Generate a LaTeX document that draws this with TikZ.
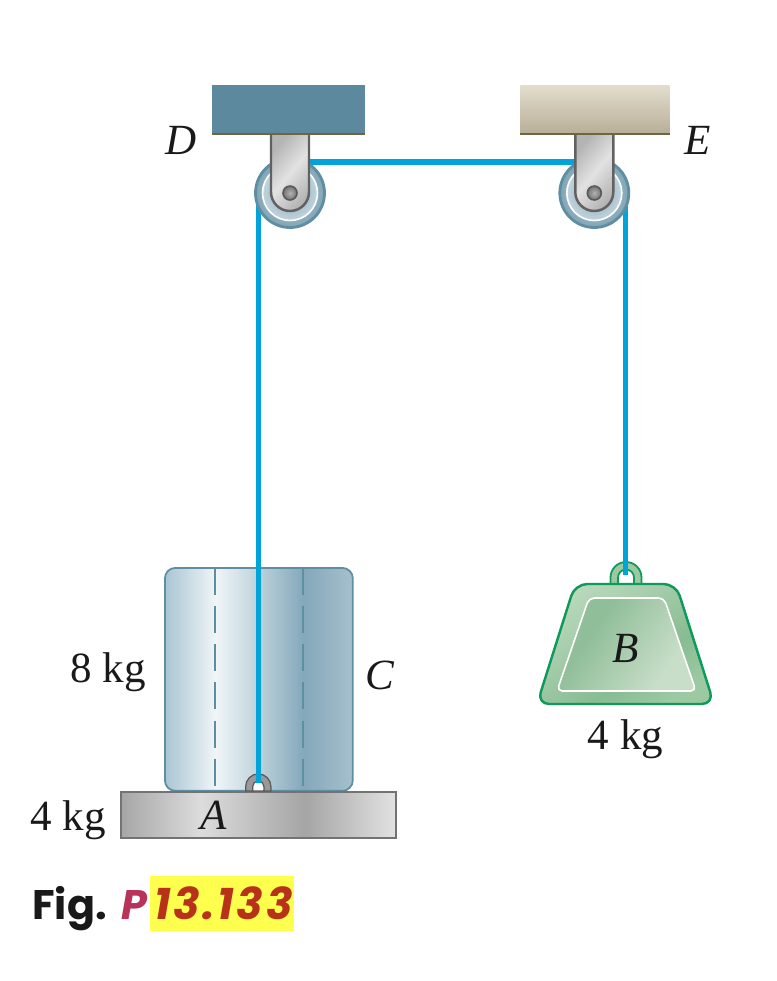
\documentclass[tikz,border=0pt]{standalone}
\usepackage{fontspec}
\setmainfont{Liberation Serif}
\newfontfamily\figfont{Poppins}
\newfontfamily\fignumfont{Poppins}[Kerning=Off, LetterSpace=6]
\definecolor{ropeblue}{HTML}{00A3DA}
\definecolor{steelblue}{HTML}{5F8EA3}
\definecolor{wallblue}{HTML}{5D899E}
\definecolor{wallbrown}{HTML}{6F6540}
\definecolor{walltop}{HTML}{E4DDCD}
\definecolor{wallbottom}{HTML}{B8AF98}
\definecolor{weightgreen}{HTML}{0E9A5A}
\definecolor{figred}{HTML}{B8321A}
\definecolor{figpink}{HTML}{B8325A}
\definecolor{figyellow}{HTML}{FFFF4D}
\definecolor{cylA}{HTML}{A9C5D2}
\definecolor{cylB}{HTML}{F0F5F7}
\definecolor{cylC}{HTML}{BDD2DB}
\definecolor{cylD}{HTML}{84A8BA}
\definecolor{cylE}{HTML}{A6BFCC}
\definecolor{plateA}{HTML}{A6A6A6}
\definecolor{plateB}{HTML}{DCDCDC}
\definecolor{plateC}{HTML}{A5A5A5}
\definecolor{plateD}{HTML}{E2E2E2}
\definecolor{brackA}{HTML}{B4B4B4}
\definecolor{brackB}{HTML}{E2E2E2}
\definecolor{weightA}{HTML}{B8D8BA}
\definecolor{weightB}{HTML}{A9CFAE}
\definecolor{weightC}{HTML}{88BC92}
\definecolor{weightD}{HTML}{9CC9A2}
\definecolor{panelA}{HTML}{90BE99}
\definecolor{panelB}{HTML}{C8DEC8}
\pgfdeclarehorizontalshading{cylindershade}{100bp}{
	color(0bp)=(cylA); color(25bp)=(cylA); color(38.5bp)=(cylB);
	color(50bp)=(cylC); color(61.8bp)=(cylD); color(75bp)=(cylE);
	color(100bp)=(cylE)}
\pgfdeclarehorizontalshading{plateshade}{100bp}{
	color(0bp)=(plateA); color(25bp)=(plateA); color(39.5bp)=(plateB);
	color(58.5bp)=(plateC); color(75bp)=(plateD); color(100bp)=(plateD)}
\pgfdeclarehorizontalshading{bracketshade}{100bp}{
	color(0bp)=(brackA); color(25bp)=(brackA); color(50bp)=(brackB);
	color(75bp)=(brackA); color(100bp)=(brackA)}
\pgfdeclarehorizontalshading{weightshade}{100bp}{
	color(0bp)=(weightA); color(25bp)=(weightA); color(38bp)=(weightB);
	color(60bp)=(weightC); color(75bp)=(weightD); color(100bp)=(weightD)}
\pgfdeclarehorizontalshading{panelshade}{100bp}{
	color(0bp)=(panelA); color(35bp)=(panelA);
	color(70bp)=(panelB); color(100bp)=(panelB)}
\tikzset{
	label text/.style={font=\fontsize{24.5}{28}\selectfont, inner sep=0pt, text=black!90},
	rope/.style={ropeblue, line width=2.9pt},
	wall/.style={inner sep=0pt, minimum height=0.96cm, anchor=north west},
	fig text/.style={font=\figfont\bfseries\fontsize{23.5}{28}\selectfont, inner sep=0pt, anchor=base west},
}
\begin{document}
\begin{tikzpicture}[x=0.02cm, y=-0.02cm]
\useasboundingbox (0,0) rectangle (777,981);

\node (wallD) [wall, fill=wallblue, minimum width=3.05cm] at (212,85) {};
\node (wallE) [wall, top color=walltop, bottom color=wallbottom, minimum width=2.98cm] at (520,85) {};
\foreach \w in {wallD,wallE}{
	\draw [wallbrown, line width=1.1pt] (\w.south west) -- (\w.south east);
}

% block C and plate A
\node (blockC) [draw=steelblue, line width=1pt, rounded corners=6pt, shade, shading=cylindershade,
	minimum width=3.76cm, minimum height=4.46cm, inner sep=0pt, anchor=north west] at (164,567) {};
\foreach \x in {215,303}{
	\draw [steelblue, line width=1pt, dash pattern=on 15.4pt off 6.3pt] (\x,568) -- (\x,786);
}
\node (plateA) [draw=black!55, line width=1pt, shade, shading=plateshade,
	minimum width=5.5cm, minimum height=0.92cm, inner sep=0pt, anchor=north west] at (120,791) {};

% hook on the plate
\fill [black!40, draw=black!65, line width=0.7pt] (245.7,791) -- (245.7,786.5) arc (180:360:12.6) -- (270.9,791) -- cycle;
\fill [white, draw=black!65, line width=0.7pt] (252.7,791) -- (252.7,786.5) arc (180:360:5.6) -- (263.9,791) -- cycle;

% weight B
\path [fill=weightD, draw=weightgreen, line width=1pt]
	(610.5,584) -- (610.5,577.5) arc (180:360:15.5) -- (641.5,584) -- (634,584) -- (634,577.5) arc (360:180:8) -- (618,584) -- cycle;
\shade [shading=weightshade, shading angle=-55, draw=weightgreen, line width=1.4pt, rounded corners=7pt]
	(575,584) -- (676,584) -- (714,704) -- (537,704) -- cycle;
\shade [shading=panelshade, shading angle=-35, draw=white, line width=0.9pt, rounded corners=3pt]
	(589,598) -- (664,598) -- (696,691) -- (557,691) -- cycle;

% ropes run under the pulleys
\coordinate (hookA) at (258.5,783);
\coordinate (hookB) at (625.7,575);
\coordinate (endD) at (258.5,200);
\coordinate (endE) at (625.7,200);
\coordinate (topD) at (305,162);
\coordinate (topE) at (580,162);
\draw [rope] (hookA) -- (endD);
\draw [rope] (topD) -- (topE);
\draw [rope] (hookB) -- (endE);

\foreach \name/\px in {D/290,E/594.3}{
	\node (pulley\name) [circle, draw=steelblue, line width=1.6pt, inner color=steelblue!35!white, outer color=steelblue!80!white,
		minimum size=1.38cm, inner sep=0pt] at (\px,193) {};
	\node (ring\name) [circle, draw=white, line width=0.9pt, inner color=steelblue!80!white, outer color=steelblue!38!white,
		minimum size=1.1cm, inner sep=0pt] at (\px,193) {};
	\shade [shading=bracketshade, shading angle=-40, draw=black!62, line width=1.4pt]
		(\px-19,135) -- (\px-19,192) arc (180:0:19) -- (\px+19,135);
	\node (pin\name) [circle, draw=black!65, line width=0.9pt, inner color=black!30, outer color=black!55,
		minimum size=0.28cm, inner sep=0pt] at (\px,193) {};
}

\node (labelD) [label text] at (181.5,140.5) {\textit{D}};
\node (labelE) [label text] at (697.5,140.5) {\textit{E}};
\node (labelC) [label text] at (380,675.5) {\textit{C}};
\node (labelA) [label text] at (213.5,815) {\textit{A}};
\node (labelB) [label text] at (625.5,648) {\textit{B}};
\node (massC) [label text] at (108,672.5) {8 kg};
\node (massA) [label text] at (68,820.5) {4 kg};
\node (massB) [label text] at (625.5,739.5) {4 kg};

\node (figbox) [fill=figyellow, minimum width=2.88cm, minimum height=1.1cm, inner sep=0pt, anchor=north west] at (150,876) {};
\node (figword) [fig text, text=black!90] at (32,919) {Fig.};
\node (figP) [fig text, text=figpink] at (121,919) {\itshape P};
\node (fignum) [fig text, text=figred] at (154,919) {\fignumfont\bfseries\itshape\fontsize{25}{28}\selectfont 13.133};
\end{tikzpicture}
\end{document}
